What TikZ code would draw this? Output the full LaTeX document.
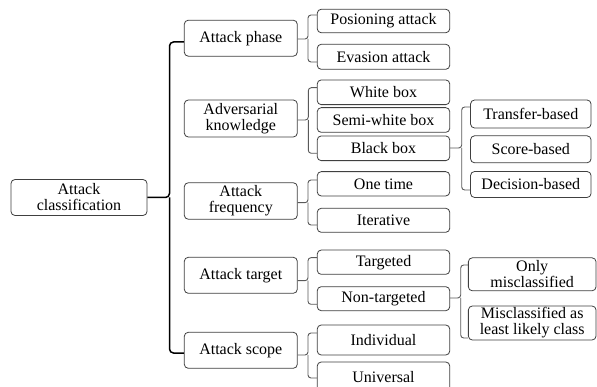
\documentclass[tikz,border=0pt]{standalone}
\usepackage{fontspec}
\setmainfont{Liberation Serif}
\begin{document}
\begin{tikzpicture}[x=1pt,y=-1pt,
  box/.style={draw=black!75, line width=0.8pt, rounded corners=4pt, rectangle,
    inner sep=0pt, align=center, font=\fontsize{16}{16}\selectfont},
  lone/.style={box, minimum width=136pt},
  ltwo/.style={box, minimum width=113pt},
  lthree/.style={box, minimum width=132.5pt},
  lfour/.style={box, minimum width=120.5pt},
  lfive/.style={box, minimum width=127.7pt},
  bigbr/.style={draw=black, line width=1.5pt, rounded corners=4pt},
  br/.style={draw=black!65, line width=0.9pt, rounded corners=3pt}]
\clip (0,0) rectangle (597,387);
\fill[white] (0,0) rectangle (597,387);
% root
\node[lone, minimum height=36pt] (root) at (79,197.5) {Attack\\classification};
% level 1
\node[ltwo, minimum height=36pt] (phase) at (240.8,38.2) {Attack phase};
\node[ltwo, minimum height=37pt] (know) at (240.8,118.5) {Adversarial\\knowledge};
\node[ltwo, minimum height=36.5pt] (freq) at (240.8,201) {Attack\\frequency};
\node[ltwo, minimum height=36pt] (targ) at (240.8,275.3) {Attack target};
\node[ltwo, minimum height=36pt] (scope) at (240.8,350.3) {Attack scope};
% level 2
\node[lthree, minimum height=23.5pt] (pois) at (383.5,21) {Posioning attack};
\node[lthree, minimum height=25pt] (evas) at (383.5,56.8) {Evasion attack};
\node[lthree, minimum height=24.7pt] (white) at (383.5,92.3) {White box};
\node[lthree, minimum height=24.7pt] (semi) at (383.5,120) {Semi-white box};
\node[lthree, minimum height=24.7pt] (black) at (383.5,148.3) {Black box};
\node[lthree, minimum height=24.3pt] (one) at (383.5,183.8) {One time};
\node[lthree, minimum height=24pt] (iter) at (383.5,220.3) {Iterative};
\node[lthree, minimum height=24.3pt] (tgd) at (383.5,262.2) {Targeted};
\node[lthree, minimum height=24pt] (ntgd) at (383.5,298.7) {Non-targeted};
\node[lthree, minimum height=30pt] (indiv) at (383.5,340) {Individual};
\node[lthree, minimum height=30pt] (univ) at (383.5,377) {Universal};
% level 3
\node[lfour, minimum height=28pt] (transfer) at (530.8,114) {Transfer-based};
\node[lfour, minimum height=27pt] (score) at (530.8,149.3) {Score-based};
\node[lfour, minimum height=26pt] (decision) at (530.8,184.5) {Decision-based};
\node[lfive, minimum height=33pt] (only) at (532.2,274.3) {Only\\misclassified};
\node[lfive, minimum height=34pt] (least) at (532.2,323) {Misclassified as\\least likely class};
% root brace
\draw[bigbr] (phase.west |- 0,42) -| (169.5,197.5) -- (root.east |- 0,197.5);
\draw[bigbr] (scope.west |- 0,353) -| (169.5,197.5);
% phase brace
\draw[br] (pois.west |- 0,15) -| (308,39) -- (phase.east |- 0,39);
\draw[br] (evas.west |- 0,62) -| (308,39);
% knowledge brace
\draw[br] (white.west |- 0,87.7) -| (308.3,120) -- (know.east |- 0,120);
\draw[br] (black.west |- 0,153.3) -| (308.3,120);
% frequency brace
\draw[br] (one.west |- 0,180) -| (308,202.7) -- (freq.east |- 0,202.7);
\draw[br] (iter.west |- 0,225) -| (308,202.7);
% target brace
\draw[br] (tgd.west |- 0,257.7) -| (308,280.7) -- (targ.east |- 0,280.7);
\draw[br] (ntgd.west |- 0,304.3) -| (308,280.7);
% scope brace
\draw[br] (indiv.west |- 0,333) -| (308,355) -- (scope.east |- 0,355);
\draw[br] (univ.west |- 0,378) -| (308,355);
% black box brace
\draw[br] (transfer.west |- 0,107) -| (461.7,148) -- (black.east |- 0,148);
\draw[br] (decision.west |- 0,190) -| (461.7,148);
% non-targeted brace
\draw[br] (only.west |- 0,265) -| (460.7,298) -- (ntgd.east |- 0,298);
\draw[br] (least.west |- 0,338) -| (460.7,298);
\end{tikzpicture}
\end{document}
